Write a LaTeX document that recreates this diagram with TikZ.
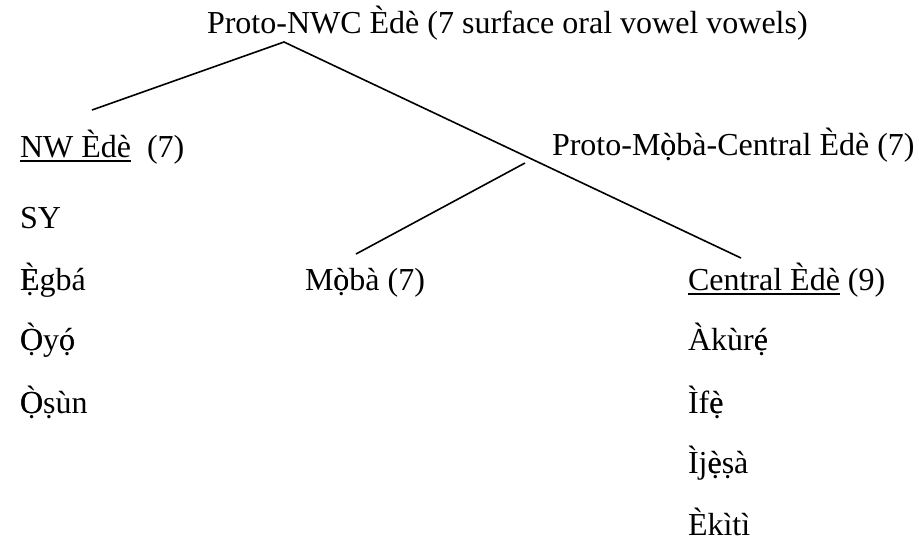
\documentclass[tikz,border=0pt]{standalone}
\usepackage{fontspec}
\setmainfont{Liberation Serif}
% thick underline for the group names
\newcommand\undl[1]{\setbox0\hbox{#1}\rlap{\rule[-5pt]{\wd0}{1.6pt}}\box0\relax}
% a vowel carrying both a tone mark and a dot below
\newcommand\tv[2]{\ooalign{#1\cr#2\cr}}
\begin{document}
\begin{tikzpicture}[x=1pt,y=-1pt,
  lbl/.style={anchor=base west,inner sep=0pt,outer sep=0pt,
    font=\fontsize{32}{36}\selectfont},
  branch/.style={line width=1.6pt}]
\useasboundingbox (0,0) rectangle (919,550);

% labels of the tree
\node[lbl] (root) at (207,33) {Proto-NWC Èdè (7 surface oral vowel vowels)};
\node[lbl] (nw) at (20,157) {\undl{NW Èdè}\ \ (7)};
\node[lbl] (pmc) at (552,155) {Proto-M\tv{ò}{ọ}bà-Central Èdè (7)};
\node[lbl] (sy) at (20,228) {SY};
\node[lbl] (egba) at (20,290) {\tv{È}{Ẹ}gbá};
\node[lbl] (oyo) at (20,350) {\tv{Ò}{Ọ}y\tv{ó}{ọ}};
\node[lbl] (osun) at (20,413) {\tv{Ò}{Ọ}ṣùn};
\node[lbl] (moba) at (305,290) {M\tv{ò}{ọ}bà (7)};
\node[lbl] (central) at (688,290) {\undl{Central Èdè} (9)};
\node[lbl] (akure) at (688,350) {Àkùr\tv{é}{ẹ}};
\node[lbl] (ife) at (688,413) {Ìf\tv{è}{ẹ}};
\node[lbl] (ijesa) at (688,473) {Ìj\tv{è}{ẹ}ṣà};
\node[lbl] (ekiti) at (688,535) {Èkìtì};

% branch end points
\coordinate (apex) at (284,42);
\coordinate (nwtop) at (92,110);
\coordinate (centraltop) at (741,258);
\coordinate (pmcfoot) at (525,163);
\coordinate (mobatop) at (356,254);

% branches
\draw[branch] (nwtop) -- (apex) -- (centraltop);
\draw[branch] (pmcfoot) -- (mobatop);
\end{tikzpicture}
\end{document}
